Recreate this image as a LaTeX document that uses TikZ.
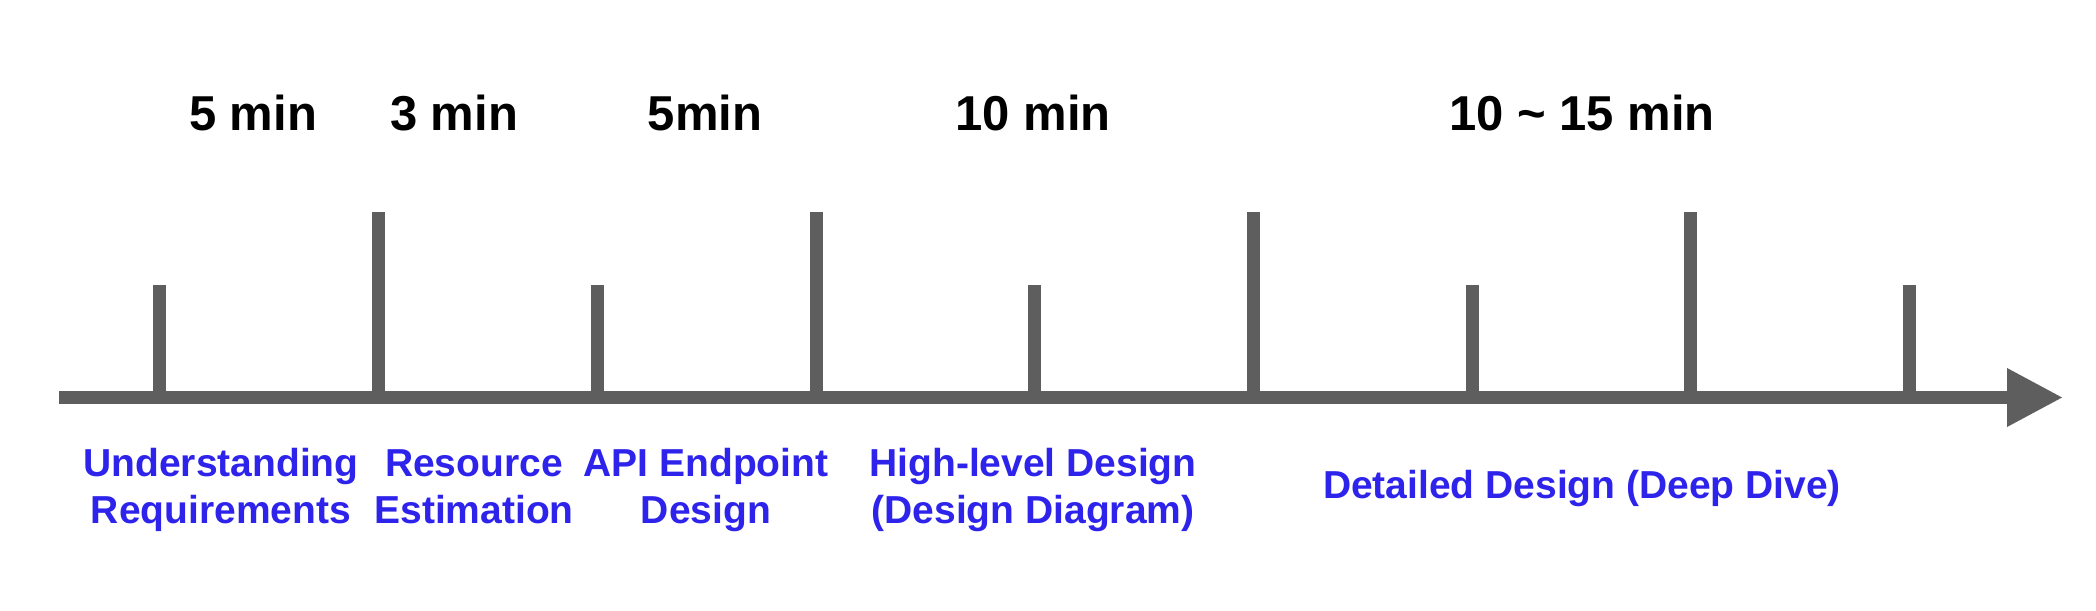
\documentclass[tikz,border=0pt]{standalone}
\usepackage{fontspec}
\setmainfont{Liberation Sans}
\usetikzlibrary{arrows.meta}
\definecolor{axisgray}{RGB}{94,94,94}
\definecolor{phaseblue}{RGB}{45,35,235}
\begin{document}
\begin{tikzpicture}[x=0.5pt,y=-0.5pt,
	tick/.style={axisgray,line width=6.5pt},
	timelabel/.style={font=\bfseries\fontsize{24.5}{29}\selectfont,inner sep=0pt,anchor=base},
	phaselabel/.style={phaseblue,font=\bfseries\fontsize{19.5}{23.5}\selectfont,align=center,inner sep=0pt,anchor=base}]
	\useasboundingbox (0,0) rectangle (2096,610);
	\coordinate (start) at (59,397.5);
	\coordinate (end) at (2063,397.5);
	\draw[tick,-{Triangle[length=28pt,width=27.5pt]}] (start) -- (end);
	\draw[tick] (159.5,397.5) -- (159.5,285);
	\draw[tick] (378,397.5) -- (378,212);
	\draw[tick] (597,397.5) -- (597,285);
	\draw[tick] (816,397.5) -- (816,212);
	\draw[tick] (1034,397.5) -- (1034,285);
	\draw[tick] (1253,397.5) -- (1253,212);
	\draw[tick] (1472,397.5) -- (1472,285);
	\draw[tick] (1690,397.5) -- (1690,212);
	\draw[tick] (1909,397.5) -- (1909,285);
	\node[timelabel] (time1) at (253,131) {5 min};
	\node[timelabel] (time2) at (454,131) {3 min};
	\node[timelabel] (time3) at (705,131) {5min};
	\node[timelabel] (time4) at (1033,131) {10 min};
	\node[timelabel] (time5) at (1582,131) {10 \textasciitilde{} 15 min};
	\node[phaselabel] (phase1) at (221,523) {Understanding\\Requirements};
	\node[phaselabel] (phase2) at (474,523) {Resource\\Estimation};
	\node[phaselabel] (phase3) at (706,523) {API Endpoint\\Design};
	\node[phaselabel] (phase4) at (1033,523) {High-level Design\\(Design Diagram)};
	\node[phaselabel] (phase5) at (1582,498) {Detailed Design (Deep Dive)};
\end{tikzpicture}
\end{document}
